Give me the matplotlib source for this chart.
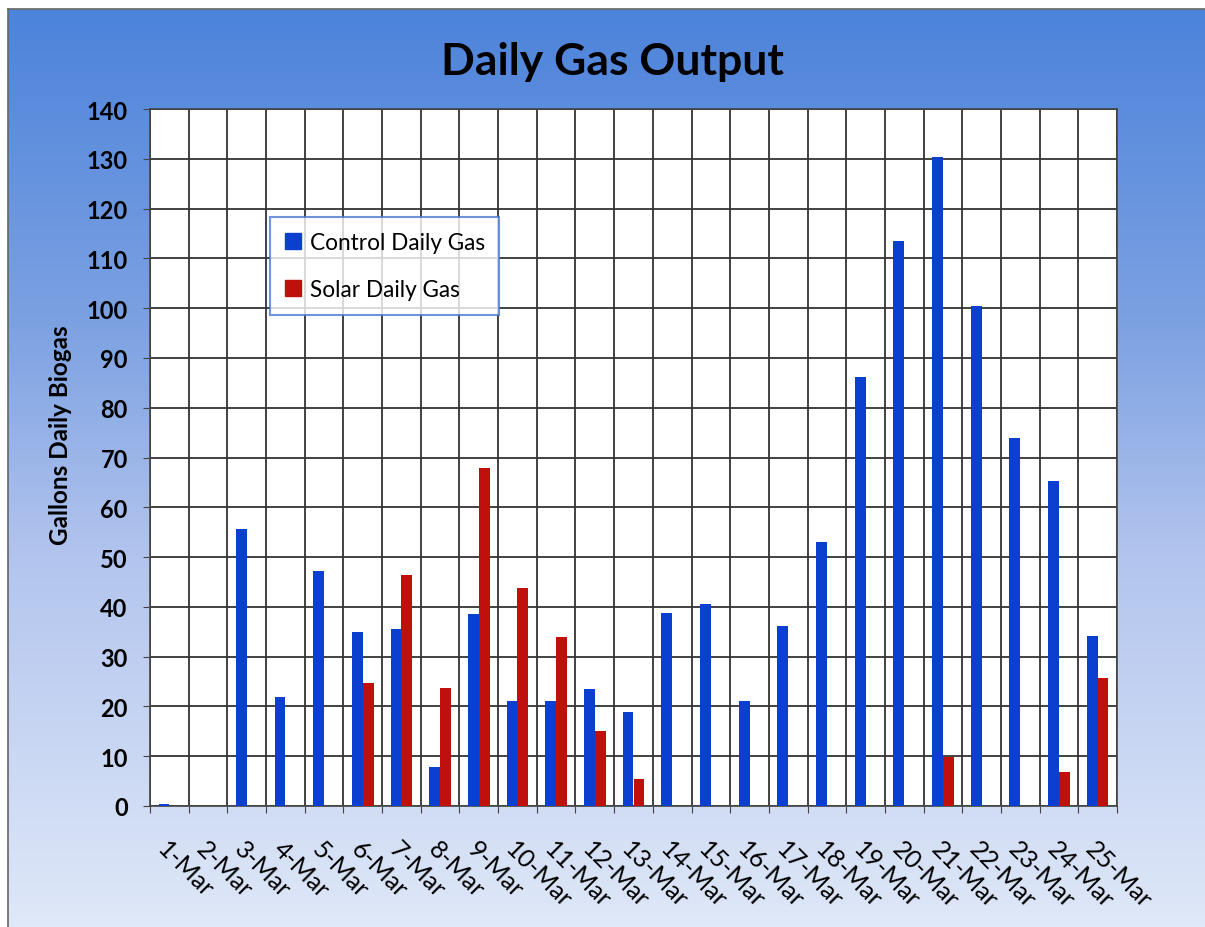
import numpy as np
import matplotlib
matplotlib.use("Agg")
import matplotlib.pyplot as plt
from matplotlib.colors import LinearSegmentedColormap
from matplotlib.lines import Line2D

plt.rcParams['font.family'] = ['Lato', 'DejaVu Sans']

dates = ["1-Mar", "2-Mar", "3-Mar", "4-Mar", "5-Mar", "6-Mar", "7-Mar", "8-Mar",
         "9-Mar", "10-Mar", "11-Mar", "12-Mar", "13-Mar", "14-Mar", "15-Mar",
         "16-Mar", "17-Mar", "18-Mar", "19-Mar", "20-Mar", "21-Mar", "22-Mar",
         "23-Mar", "24-Mar", "25-Mar"]
control = [0.5, 0, 55.6, 21.8, 47.3, 34.9, 35.6, 7.9, 38.6, 21.1, 21.1, 23.6, 18.8,
           38.7, 40.6, 21.1, 36.2, 53.0, 86.1, 113.5, 130.3, 100.4, 74.0, 65.3, 34.1]
solar = [0, 0, 0, 0, 0, 24.8, 46.4, 23.8, 67.9, 43.8, 33.9, 15.0, 5.5,
         0, 0, 0, 0, 0, 0, 0, 9.8, 0, 0, 6.8, 25.8]
yticks = list(range(0, 141, 10))

W, H = 1205, 928
fig = plt.figure(figsize=(W / 100, H / 100), dpi=100, facecolor='white')

# gradient background panel
bg = fig.add_axes([8 / W, 0, 1 - 8 / W, 1 - 10 / H])
cmap = LinearSegmentedColormap.from_list(
    'bg', [(0.0, '#4c83db'), (0.35, '#7ea2e2'), (0.6, '#b3c5ee'), (1.0, '#dfe8f8')])
grad = np.linspace(0, 1, 256).reshape(-1, 1)
bg.imshow(grad, aspect='auto', cmap=cmap, extent=[0, 1, 0, 1], origin='upper')
bg.set_xlim(0, 1)
bg.set_ylim(0, 1)
bg.set_xticks([])
bg.set_yticks([])
for s in ['right', 'bottom']:
    bg.spines[s].set_visible(False)
for s in ['left', 'top']:
    bg.spines[s].set_color('#666666')
    bg.spines[s].set_linewidth(1.2)
bg.set_zorder(0)

ax = fig.add_axes([150 / W, 1 - 807 / H, (1117 - 150) / W, (807 - 110) / H])
ax.set_zorder(1)
ax.set_facecolor('white')

n = len(dates)
x = np.arange(n)
bw = 0.28
ax.bar(x - bw / 2, control, width=bw, color='#0a3fd0', label='Control Daily Gas', zorder=3)
ax.bar(x + bw / 2, solar, width=bw, color='#c0100c', label='Solar Daily Gas', zorder=3)

ax.set_xlim(-0.5, n - 0.5)
ax.set_ylim(0, 140)
ax.set_yticks(yticks)
ax.set_yticklabels([str(v) for v in yticks], fontsize=17, fontweight='bold')
ax.set_xticks(np.arange(-0.5, n, 1.0))
ax.set_xticklabels([])
ax.set_xticks(x, minor=True)
ax.set_xticklabels(dates, minor=True, rotation=-45, ha='left', va='top',
                   rotation_mode='anchor', fontsize=18)
ax.tick_params(axis='x', which='minor', length=0, pad=22)
ax.tick_params(axis='x', which='major', length=5, direction='out', color='#444444')
ax.tick_params(axis='y', length=5, direction='out', color='#444444', pad=11)

ax.grid(True, which='major', axis='both', color='#333333', linewidth=1.3, zorder=1)
ax.set_axisbelow(True)
for s in ax.spines.values():
    s.set_color('#444444')
    s.set_linewidth(1.2)

ax.set_ylabel('Gallons Daily Biogas', fontsize=17.5, fontweight='bold')
ax.yaxis.set_label_coords(-0.081, 0.534)

handles = [Line2D([0], [0], marker='s', color='none', markerfacecolor='#0a3fd0',
                  markeredgecolor='#0a3fd0', markersize=11),
           Line2D([0], [0], marker='s', color='none', markerfacecolor='#c0100c',
                  markeredgecolor='#c0100c', markersize=11)]
leg = ax.legend(handles, ['Control Daily Gas', 'Solar Daily Gas'],
                loc='upper left', bbox_to_anchor=(0.124, 0.845), borderaxespad=0,
                fontsize=16.3, frameon=True, fancybox=False, handlelength=0.7,
                handletextpad=0.4, labelspacing=1.15, borderpad=0.65)
leg.get_frame().set_edgecolor('#4a78d0')
leg.get_frame().set_linewidth(1.5)
leg.set_zorder(5)

fig.text(612 / W, 1 - 62 / H, 'Daily Gas Output', fontsize=32, fontweight='bold',
         ha='center', va='center', color='black')

fig.savefig('out.png', dpi=100, facecolor='white')
